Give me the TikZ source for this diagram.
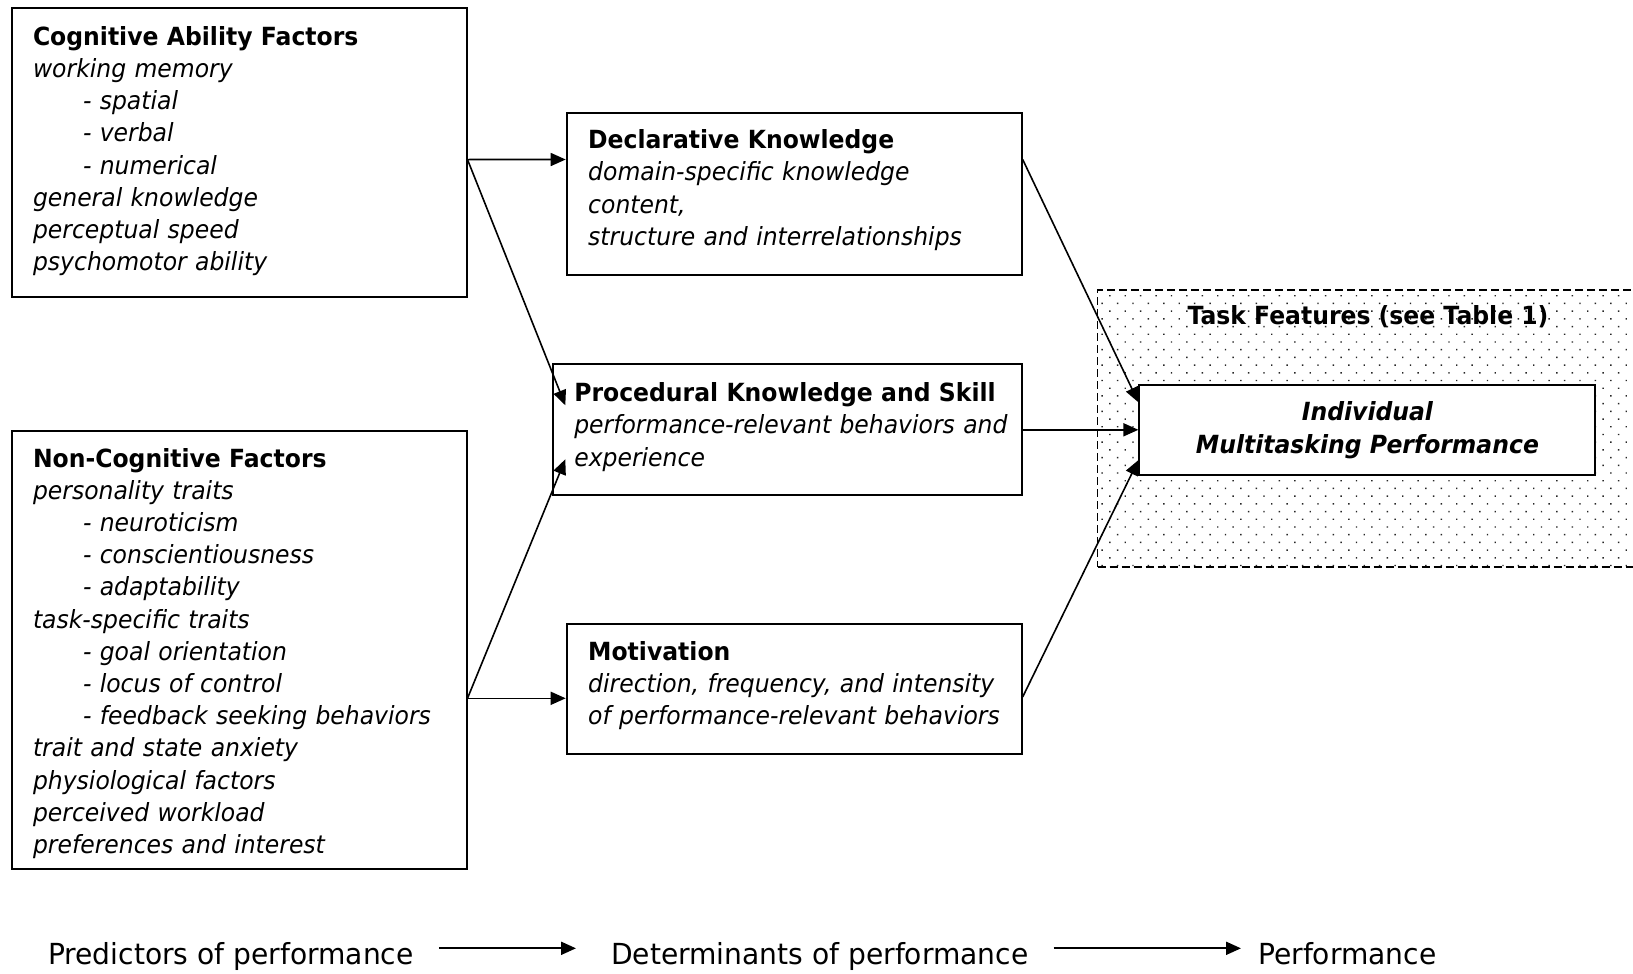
\documentclass[tikz,border=0pt]{standalone}
\usepackage{fontspec}
\setmainfont{DejaVu Sans}[
  ItalicFont={DejaVu Sans Oblique},
  BoldFont={DejaVu Sans Bold},
  BoldItalicFont={DejaVu Sans Bold Oblique},
  FakeStretch=0.94]
\newfontfamily\legendfont{DejaVu Sans}[FakeStretch=0.97]
\usetikzlibrary{arrows.meta,patterns.meta}
% struts that nudge a block of lines inside its box
\newcommand{\lowerdepth}[1]{\rule[-#1]{0pt}{1pt}}
\newcommand{\upperheight}[1]{\rule{0pt}{#1}}

\begin{document}
\begin{tikzpicture}[x=1pt,y=-1pt,
  boxtext/.style={font=\fontsize{25pt}{32.2pt}\selectfont},
  factorbox/.style={draw,line width=2pt,anchor=north west,inner ysep=0pt,
    inner xsep=21.5pt,align=left,boxtext},
  conn/.style={line width=1.6pt,-{Triangle[length=15pt,width=13pt]}},
  legendarrow/.style={line width=2pt,-{Triangle[length=15pt,width=13pt]}},
  legend/.style={font=\legendfont\fontsize{29pt}{34pt}\selectfont,inner sep=0pt}]
\useasboundingbox (0,0) rectangle (1633,974);

% task feature zone, dotted and dashed
\node[draw,line width=1.4pt,dash pattern=on 8pt off 4pt,
  pattern={Dots[distance=10.9pt,angle=45,radius=1pt]},pattern color=black!85,
  anchor=north west,minimum width=560pt,minimum height=277pt,inner sep=0pt]
  (tf) at (1097,289.3) {};
\node[font=\bfseries\fontsize{25pt}{32.2pt}\selectfont] (tflabel) at (1368,316.6) {Task Features (see Table 1)};

% outcome
\node[draw,fill=white,line width=2pt,anchor=north west,minimum width=456pt,
  minimum height=89.6pt,inner sep=0pt,align=center,
  font=\bfseries\itshape\fontsize{25pt}{32.2pt}\selectfont]
  (ind) at (1138.4,384.3) {Individual\\Multitasking Performance};

% predictors
\node[factorbox,text width=412pt,minimum height=289pt] (cog) at (10.5,6.8) {%
\textbf{Cognitive Ability Factors}\\
\textit{working memory}\\
\hspace*{50pt}\textit{- spatial}\\
\hspace*{50pt}\textit{- verbal}\\
\hspace*{50pt}\textit{- numerical}\\
\textit{general knowledge}\\
\textit{perceptual speed}\\
\textit{psychomotor ability}\lowerdepth{7.5pt}};

\node[factorbox,text width=412pt,minimum height=437.7pt] (noncog) at (10.5,430) {%
\upperheight{26pt}\textbf{Non-Cognitive Factors}\\
\textit{personality traits}\\
\hspace*{50pt}\textit{- neuroticism}\\
\hspace*{50pt}\textit{- conscientiousness}\\
\hspace*{50pt}\textit{- adaptability}\\
\textit{task-specific traits}\\
\hspace*{50pt}\textit{- goal orientation}\\
\hspace*{50pt}\textit{- locus of control}\\
\hspace*{50pt}\textit{- feedback seeking behaviors}\\
\textit{trait and state anxiety}\\
\textit{physiological factors}\\
\textit{perceived workload}\\
\textit{preferences and interest}};

% determinants
\node[factorbox,text width=412pt,minimum height=162.3pt] (decl) at (565.7,111.7) {%
\textbf{Declarative Knowledge}\\
\textit{domain-specific knowledge}\\
\textit{content,}\\
\textit{structure and interrelationships}\lowerdepth{12.5pt}};

\node[factorbox,inner xsep=21pt,text width=426.4pt,minimum height=131pt] (proc) at (552.3,363.3) {%
\textbf{Procedural Knowledge and Skill}\\
\mbox{\textit{performance-relevant behaviors and}}\\
\textit{experience}\lowerdepth{11pt}};

\node[factorbox,text width=412pt,minimum height=130.2pt] (motiv) at (565.7,622.8) {%
\textbf{Motivation}\\
\textit{direction, frequency, and intensity}\\
\textit{of performance-relevant behaviors}\lowerdepth{12pt}};

% connectors
\draw[conn] ([yshift=-7.25pt]cog.east) -- ([yshift=34.35pt]decl.west);
\draw[conn] ([yshift=-7.25pt]cog.east) -- ([xshift=13pt,yshift=-42pt]proc.north west);
\draw[conn] ([yshift=-48.45pt]noncog.east) -- ([xshift=13pt,yshift=37pt]proc.south west);
\draw[conn] ([yshift=-48.45pt]noncog.east) -- ([yshift=-9.4pt]motiv.west);
\draw[conn] ([yshift=34.35pt]decl.east) -- ([yshift=27.8pt]ind.west);
\draw[conn] (proc.east) -- (proc.east -| ind.west);
\draw[conn] ([yshift=-8pt]motiv.east) -- ([yshift=-30pt]ind.west);

% legend
\node[legend,anchor=base west] (pred) at (48,964) {Predictors of performance};
\node[legend,anchor=base west] (det) at (611,964) {Determinants of performance};
\node[legend,anchor=base west] (perf) at (1258,964) {Performance};
\draw[legendarrow] ([xshift=25pt,yshift=15.7pt]pred.base east) -- ([xshift=-35pt,yshift=15.7pt]det.base west);
\draw[legendarrow] ([xshift=25pt,yshift=15.7pt]det.base east) -- ([xshift=-17pt,yshift=15.7pt]perf.base west);
\end{tikzpicture}
\end{document}
